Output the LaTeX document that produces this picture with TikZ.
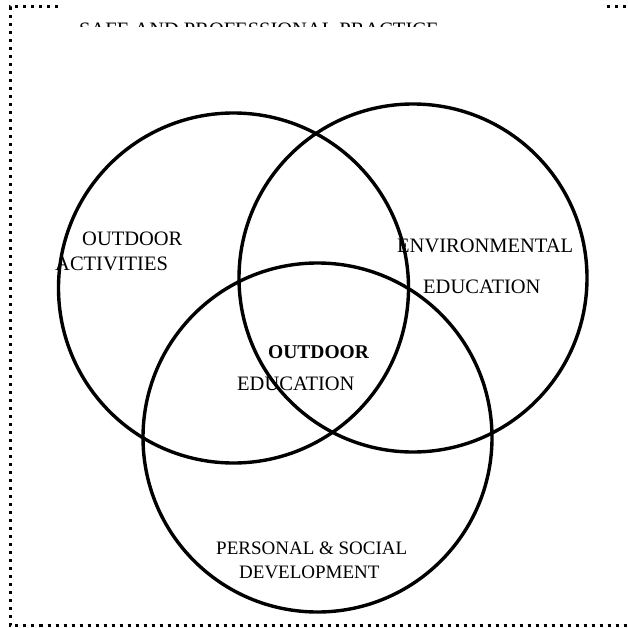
\documentclass[tikz,border=0pt]{standalone}
\usepackage{fontspec}
\setmainfont{Liberation Serif}
\begin{document}
\begin{tikzpicture}[x=1pt,y=-1pt,
  venn/.style={circle,draw=black,line width=3.4pt,inner sep=0pt},
  lbl/.style={inner sep=0pt,anchor=base west,font=\fontsize{20.5}{24}\selectfont},
  lbls/.style={inner sep=0pt,anchor=base west,font=\fontsize{19}{23}\selectfont},
  frame/.style={line width=3pt,dash pattern=on 3pt off 5pt}]
\useasboundingbox (0,0) rectangle (627,628);
\clip (0,0) rectangle (627,628);
% dotted frame
\coordinate (ftr) at (650,7);
\coordinate (ftl) at (10,7);
\coordinate (fbl) at (10,625.5);
\coordinate (fbr) at (650,625.5);
\draw[frame] (ftr) -- (ftl) -- (fbl) -- (fbr);
% title box (covers frame top edge, clips its text)
\fill[white] (59,0) rectangle (605,26.5);
\begin{scope}
\clip (59,0) rectangle (605,26.5);
\node[lbl] (title) at (79,37) {SAFE AND PROFESSIONAL PRACTICE};
\end{scope}
% circles
\node[venn,minimum size=350pt] (cl) at (233.5,288) {};
\node[venn,minimum size=348pt] (cr) at (413,278) {};
\node[venn,minimum size=349pt] (cb) at (317.5,437.5) {};
% labels
\node[lbl] (oa1) at (82,245) {OUTDOOR};
\node[lbl] (oa2) at (55,270) {ACTIVITIES};
\node[lbl] (ee1) at (397,252) {ENVIRONMENTAL};
\node[lbl] (ee2) at (423,293) {EDUCATION};
\node[lbl,font=\fontsize{19.5}{23}\selectfont\bfseries] (oe1) at (268,358) {OUTDOOR};
\node[lbl] (oe2) at (237,390) {EDUCATION};
\node[lbls] (ps1) at (216,554) {PERSONAL \& SOCIAL};
\node[lbls] (ps2) at (239,578) {DEVELOPMENT};
\end{tikzpicture}
\end{document}
